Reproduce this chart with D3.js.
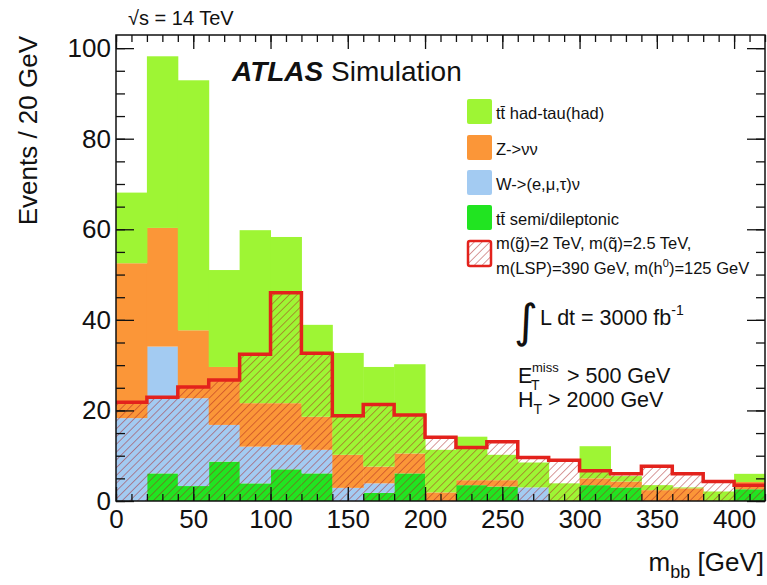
<!DOCTYPE html>
<html>
<head>
<meta charset="utf-8">
<script src="https://cdn.jsdelivr.net/npm/d3@7"></script>
<style>
	body { margin: 0; background: #fff; }
	svg text { font-family: "Liberation Sans", Arial, Helvetica, sans-serif; fill: #111; }
</style>
</head>
<body>
<div id="chart"></div>
<script>
// 20 GeV bins, 0 - 420 GeV
const bin_edges = d3.range(0, 420, 20);
const ttbar_semi = [0, 6.1, 3.3, 8.7, 3.9, 7.0, 6.1, 0, 1.8, 6.1, 0, 3.5, 3.2, 0, 0, 3.5, 3.0, 0, 0, 0, 2.6];
const w_lnu = [18.3, 28.0, 19.4, 8.1, 8.1, 5.4, 5.2, 2.9, 2.1, 0, 0, 0, 0, 3.0, 0, 0, 0, 0, 0, 0, 0];
const z_nunu = [34.2, 26.2, 15.0, 12.8, 9.6, 9.2, 7.3, 7.3, 3.7, 4.4, 1.9, 1.1, 1.4, 0, 0, 1.5, 1.3, 2.4, 2.8, 0, 1.6];
const ttbar_hadtau = [15.6, 37.9, 55.2, 21.4, 38.2, 36.7, 20.3, 22.5, 22.0, 19.7, 9.4, 9.6, 5.6, 5.5, 3.9, 7.1, 1.2, 1.1, 0.2, 2.1, 1.8];
const signal = [21.8, 22.9, 25.2, 26.7, 32.4, 46.0, 32.6, 18.8, 21.3, 19.0, 14.1, 11.8, 13.1, 9.6, 9.0, 6.7, 6.0, 7.7, 6.0, 4.3, 3.5];

const x_ticks = [0, 50, 100, 150, 200, 250, 300, 350, 400];
const y_ticks = [0, 20, 40, 60, 80, 100];

const series_keys = ['semi', 'w', 'z', 'hadtau'];
const series_colors = {'semi': '#21e421', 'w': '#a3cbf2', 'z': '#fb9638', 'hadtau': '#9ef534'};
const signal_color = '#e3221c';

const width = 767, height = 585;
const svg = d3.select('#chart').append('svg')
	.attr('width', width)
	.attr('height', height)
	.style('display', 'block')

const x = d3.scaleLinear().domain([0, 420]).range([116, 765]);
const y = d3.scaleLinear().domain([0, 102.9]).range([501, 35]);

// hatch pattern for the signal
const defs = svg.append('defs')
defs.append('pattern')
	.attr('id', 'hatch')
	.attr('patternUnits', 'userSpaceOnUse')
	.attr('width', 5.5)
	.attr('height', 5.5)
	.attr('patternTransform', 'rotate(45)')
	.append('line')
	.attr('x1', 0).attr('y1', 0)
	.attr('x2', 0).attr('y2', 5.5)
	.attr('stroke', '#a82020')
	.attr('stroke-opacity', 0.7)
	.attr('stroke-width', 1.3)

const table = bin_edges.map((lo, i) => ({
	lo: lo,
	semi: ttbar_semi[i],
	w: w_lnu[i],
	z: z_nunu[i],
	hadtau: ttbar_hadtau[i],
	signal: signal[i],
}));

const stacked = d3.stack().keys(series_keys)(table);

svg.append('g')
	.selectAll('g')
	.data(stacked)
	.join('g')
	.attr('fill', d => series_colors[d.key])
	.selectAll('rect')
	.data(d => d)
	.join('rect')
	.attr('x', d => x(d.data.lo))
	.attr('width', d => x(d.data.lo + 20) - x(d.data.lo) + 0.5)
	.attr('y', d => y(d[1]))
	.attr('height', d => Math.max(0, y(d[0]) - y(d[1])))

// signal: hatched fill + thick outline
svg.append('g')
	.selectAll('rect')
	.data(table)
	.join('rect')
	.attr('x', d => x(d.lo))
	.attr('width', d => x(d.lo + 20) - x(d.lo))
	.attr('y', d => y(d.signal))
	.attr('height', d => y(0) - y(d.signal))
	.attr('fill', 'url(#hatch)')

const step_points = [];
table.forEach(d => {
	step_points.push([d.lo, d.signal]);
	step_points.push([d.lo + 20, d.signal]);
});
svg.append('path')
	.datum(step_points)
	.attr('fill', 'none')
	.attr('stroke', signal_color)
	.attr('stroke-width', 3.5)
	.attr('stroke-linejoin', 'miter')
	.attr('d', d3.line().x(d => x(d[0])).y(d => y(d[1])))

// axes, ticks inward on all four sides
function style_axis(g) {
	g.select('.domain').remove();
	g.selectAll('line').attr('stroke', '#111').attr('stroke-width', 1.3);
	g.selectAll('text').style('font-size', '26px').attr('fill', '#111');
}
const x_minor = d3.range(0, 421, 10);
const y_minor = d3.range(0, 101, 5);

svg.append('g').attr('transform', `translate(0,${y(0)})`)
	.call(d3.axisBottom(x).tickValues(x_minor).tickSize(-7).tickFormat(''))
	.call(style_axis)
svg.append('g').attr('transform', `translate(0,${y(0)})`)
	.call(d3.axisBottom(x).tickValues(x_ticks).tickSize(-14).tickPadding(9).tickFormat(d3.format('d')))
	.call(style_axis)
svg.append('g').attr('transform', `translate(0,${y.range()[1]})`)
	.call(d3.axisTop(x).tickValues(x_minor).tickSize(-7).tickFormat(''))
	.call(style_axis)
svg.append('g').attr('transform', `translate(0,${y.range()[1]})`)
	.call(d3.axisTop(x).tickValues(x_ticks).tickSize(-14).tickFormat(''))
	.call(style_axis)

svg.append('g').attr('transform', `translate(${x(0)},0)`)
	.call(d3.axisLeft(y).tickValues(y_minor).tickSize(-9).tickFormat(''))
	.call(style_axis)
svg.append('g').attr('transform', `translate(${x(0)},0)`)
	.call(d3.axisLeft(y).tickValues(y_ticks).tickSize(-18).tickPadding(5).tickFormat(d3.format('d')))
	.call(style_axis)
svg.append('g').attr('transform', `translate(${x(420)},0)`)
	.call(d3.axisRight(y).tickValues(y_minor).tickSize(-9).tickFormat(''))
	.call(style_axis)
svg.append('g').attr('transform', `translate(${x(420)},0)`)
	.call(d3.axisRight(y).tickValues(y_ticks).tickSize(-18).tickFormat(''))
	.call(style_axis)

// frame
svg.append('rect')
	.attr('x', x(0)).attr('y', y.range()[1])
	.attr('width', x(420) - x(0))
	.attr('height', y(0) - y.range()[1])
	.attr('fill', 'none')
	.attr('stroke', '#111')
	.attr('stroke-width', 1.5)

// axis titles
svg.append('text')
	.attr('transform', 'translate(37,36) rotate(-90)')
	.attr('text-anchor', 'end')
	.style('font-size', '26px')
	.text('Events / 20 GeV')

var xt = svg.append('text')
	.attr('x', 764).attr('y', 571)
	.attr('text-anchor', 'end')
	.style('font-size', '26px')
xt.append('tspan').text('m')
xt.append('tspan').attr('dy', 7).style('font-size', '18px').text('bb')
xt.append('tspan').attr('dy', -7).text(' [GeV]')

// top-left energy label
svg.append('text')
	.attr('x', 128).attr('y', 25)
	.style('font-size', '20px')
	.text('\u221As = 14 TeV')

// ATLAS label
var atlas = svg.append('text')
	.attr('x', 232).attr('y', 81)
	.style('font-size', '28px')
atlas.append('tspan')
	.style('font-weight', 'bold')
	.style('font-style', 'italic')
	.text('ATLAS')
atlas.append('tspan').text(' Simulation')

// legend
const legend_entries = [
	{'key': 'hadtau', 'y': 99, 'lines': ['tt\u0304 had-tau(had)']},
	{'key': 'z', 'y': 135, 'lines': ['Z->\u03BD\u03BD']},
	{'key': 'w', 'y': 170, 'lines': ['W->(e,\u03BC,\u03C4)\u03BD']},
	{'key': 'semi', 'y': 205, 'lines': ['tt\u0304 semi/dileptonic']},
];
var legend = svg.append('g')
legend_entries.forEach(e => {
	legend.append('rect')
		.attr('x', 467).attr('y', e.y)
		.attr('width', 25).attr('height', 25)
		.attr('rx', 2)
		.attr('fill', series_colors[e.key])
	legend.append('text')
		.attr('x', 496).attr('y', e.y + 20)
		.style('font-size', '16.5px')
		.text(e.lines[0])
});
legend.append('rect')
	.attr('x', 468).attr('y', 241)
	.attr('width', 23).attr('height', 25)
	.attr('rx', 2)
	.attr('fill', 'url(#hatch)')
	.attr('stroke', signal_color)
	.attr('stroke-width', 2.5)
legend.append('text')
	.attr('x', 496).attr('y', 249)
	.style('font-size', '16.5px')
	.text('m(g\u0303)=2 TeV, m(q\u0303)=2.5 TeV,')
var sig2 = legend.append('text')
	.attr('x', 496).attr('y', 274)
	.style('font-size', '16.5px')
sig2.append('tspan').text('m(LSP)=390 GeV, m(h')
sig2.append('tspan').attr('dy', -7).style('font-size', '11px').text('0')
sig2.append('tspan').attr('dy', 7).text(')=125 GeV')

// luminosity
svg.append('text')
	.attr('x', 514).attr('y', 337)
	.style('font-size', '46px')
	.style('font-family', 'DejaVu Sans')
	.text('\u222B')
var lumi = svg.append('text')
	.attr('x', 540).attr('y', 325)
	.style('font-size', '21.5px')
lumi.append('tspan').text('L dt = 3000 fb')
lumi.append('tspan').attr('dy', -10).style('font-size', '14px').text('-1')

// cuts
var met = svg.append('text')
	.attr('x', 518).attr('y', 383)
	.style('font-size', '21.5px')
met.append('tspan').text('E')
met.append('tspan').attr('x', 532).attr('dy', -11).style('font-size', '13px').text('miss')
met.append('tspan').attr('x', 531).attr('dy', 18).style('font-size', '14px').text('T')
met.append('tspan').attr('x', 567).attr('dy', -7).text('> 500 GeV')

var ht = svg.append('text')
	.attr('x', 518).attr('y', 407)
	.style('font-size', '21.5px')
ht.append('tspan').text('H')
ht.append('tspan').attr('dy', 7).style('font-size', '14px').text('T')
ht.append('tspan').attr('dy', -7).text(' > 2000 GeV')
</script>
</body>
</html>
